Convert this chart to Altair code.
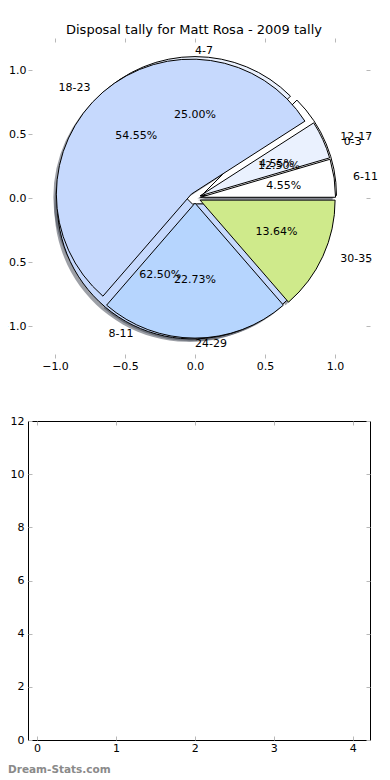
import math
import altair as alt
import pandas as pd

TITLE = "Disposal tally for Matt Rosa - 2009 tally"
PIE_A_LABELS = ["0-3", "4-7", "8-11"]
PIE_A_VALUES = [1, 2, 5]
PIE_B_LABELS = ["6-11", "12-17", "18-23", "24-29", "30-35"]
PIE_B_VALUES = [1, 1, 12, 5, 3]
SLICE_COLORS = ["#ffffff", "#eaf1fe", "#c6d9fd", "#b6d5fe", "#cfea8b"]
PIE_TICKS = [-1.0, -0.5, 0.0, 0.5, 1.0]
BAR_X_TICKS = [0, 1, 2, 3, 4]
BAR_Y_TICKS = [0, 2, 4, 6, 8, 10, 12]
WATERMARK = "Dream-Stats.com"

FONT = "DejaVu Sans"
TICK_GRAY = "#b8b8b8"
R = 135
W, H1, H2 = 342, 320, 319


def pie_frame(labels, values):
    return pd.DataFrame({
        "label": labels,
        "value": values,
        "order": list(range(len(labels))),
        "color": SLICE_COLORS[: len(labels)],
    })


xs = alt.Scale(domain=[-1.193, 1.25], nice=False, zero=False)
ys = alt.Scale(domain=[-1.25, 1.25], nice=False, zero=False)
ts = alt.Scale(domain=[0, 1], range=[2.5 * math.pi, 0.5 * math.pi])


def pie_base(df, explode):
    return (
        alt.Chart(df)
        .transform_joinaggregate(total="sum(value)")
        .transform_window(cum="sum(value)", sort=[alt.SortField("order")])
        .transform_calculate(
            start="(datum.cum - datum.value) / datum.total",
            end="datum.cum / datum.total",
            ang="PI * (2 * datum.cum - datum.value) / datum.total",
        )
        .transform_calculate(
            ex=f"{explode} * cos(datum.ang)",
            ey=f"{explode} * sin(datum.ang)",
            rside="cos(datum.ang) > -0.000001",
            pct="format(100 * datum.value / datum.total, '.2f') + '%'",
        )
        .transform_calculate(
            lx="datum.ex + 1.1 * cos(datum.ang)",
            ly="datum.ey + 1.1 * sin(datum.ang)",
            px="datum.ex + 0.6 * cos(datum.ang)",
            py="datum.ey + 0.6 * sin(datum.ang)",
        )
    )


def arc_pos():
    return dict(
        theta=alt.Theta("start:Q", scale=ts, stack=False),
        theta2="end:Q",
        x=alt.X("ex:Q", scale=xs, axis=None),
        y=alt.Y("ey:Q", scale=ys, axis=None),
    )


def shadow_layer(df, explode):
    return pie_base(df, explode).mark_arc(
        radius=R, fill="#3c4250", opacity=0.5, xOffset=-3, yOffset=3
    ).encode(**arc_pos())


def wedge_layer(df, explode):
    return pie_base(df, explode).mark_arc(radius=R, stroke="black", strokeWidth=1).encode(
        color=alt.Color("color:N", scale=None), **arc_pos()
    )


def text_layers(df, explode):
    base = pie_base(df, explode)
    common = dict(fontSize=11, font=FONT, color="black", baseline="middle")
    lab_r = base.transform_filter("datum.rside").mark_text(align="left", **common).encode(
        x=alt.X("lx:Q", scale=xs, axis=None), y=alt.Y("ly:Q", scale=ys, axis=None), text="label:N"
    )
    lab_l = base.transform_filter("!datum.rside").mark_text(align="right", **common).encode(
        x=alt.X("lx:Q", scale=xs, axis=None), y=alt.Y("ly:Q", scale=ys, axis=None), text="label:N"
    )
    pct = base.mark_text(align="center", **common).encode(
        x=alt.X("px:Q", scale=xs, axis=None), y=alt.Y("py:Q", scale=ys, axis=None), text="pct:N"
    )
    return lab_r, lab_l, pct


def axis_def(orient, values, labels=True, fmt=None, pad=2):
    kw = dict(
        orient=orient, values=values, title=None, domain=False, grid=False,
        offset=-4, tickSize=4, tickColor=TICK_GRAY, tickWidth=1,
        labels=labels, labelPadding=pad, labelFontSize=11, labelFont=FONT,
        labelColor="black", labelOverlap=False, labelFlush=False,
    )
    if fmt:
        kw["format"] = fmt
    return alt.Axis(**kw)


def axis_layers(xvals, yvals, xscale, yscale, fmt=None, ypad=2):
    # anchor points lie inside the domains, so they never widen the page
    dx = pd.DataFrame({"v": xvals, "o": [yvals[0]] * len(xvals)})
    dy = pd.DataFrame({"v": yvals, "o": [xvals[0]] * len(yvals)})
    pt = dict(opacity=0)
    return [
        alt.Chart(dx).mark_point(**pt).encode(
            x=alt.X("v:Q", scale=xscale, axis=axis_def("bottom", xvals, fmt=fmt, pad=2)),
            y=alt.Y("o:Q", scale=yscale, axis=None)),
        alt.Chart(dx).mark_point(**pt).encode(
            x=alt.X("v:Q", scale=xscale, axis=axis_def("top", xvals, labels=False)),
            y=alt.Y("o:Q", scale=yscale, axis=None)),
        alt.Chart(dy).mark_point(**pt).encode(
            y=alt.Y("v:Q", scale=yscale, axis=axis_def("left", yvals, fmt=fmt, pad=ypad)),
            x=alt.X("o:Q", scale=xscale, axis=None)),
        alt.Chart(dy).mark_point(**pt).encode(
            y=alt.Y("v:Q", scale=yscale, axis=axis_def("right", yvals, labels=False)),
            x=alt.X("o:Q", scale=xscale, axis=None)),
    ]


pie_a = pie_frame(PIE_A_LABELS, PIE_A_VALUES)
pie_b = pie_frame(PIE_B_LABELS, PIE_B_VALUES)

top = (
    alt.layer(
        *axis_layers(PIE_TICKS, PIE_TICKS, xs, ys, fmt=".1f", ypad=2),
        shadow_layer(pie_a, 0.05), shadow_layer(pie_b, 0.04),
        wedge_layer(pie_a, 0.05), wedge_layer(pie_b, 0.04),
        *text_layers(pie_a, 0.05), *text_layers(pie_b, 0.04),
    )
    .resolve_axis(x="independent", y="independent")
    .properties(
        width=W, height=H1,
        title=alt.Title(TITLE, fontSize=13, font=FONT, fontWeight="normal", color="black",
                        offset=1, dx=-5),
        view=alt.ViewBackground(stroke="transparent"),
    )
)

bxs = alt.Scale(domain=[-0.115, 4.22], nice=False, zero=False)
bys = alt.Scale(domain=[0, 12], nice=False, zero=False)

wm = alt.Chart(pd.DataFrame({"w": [WATERMARK]})).mark_text(
    align="left", baseline="middle", fontSize=10.5, font=FONT, color="#8a8a8a", fontWeight="bold"
).encode(x=alt.value(-20), y=alt.value(H2 + 30), text="w:N")

bottom = (
    alt.layer(*axis_layers(BAR_X_TICKS, BAR_Y_TICKS, bxs, bys, ypad=4), wm)
    .resolve_axis(x="independent", y="independent")
    .properties(width=W, height=H2, view=alt.ViewBackground(stroke="black", strokeWidth=1))
)

chart = (
    alt.vconcat(top, bottom, spacing=63, bounds="flush")
    .properties(padding={"left": -10, "top": 15, "right": 0, "bottom": 0})
    .configure(background="white")
)

chart.save("out.html", embed_options={"renderer": "svg", "actions": False})
